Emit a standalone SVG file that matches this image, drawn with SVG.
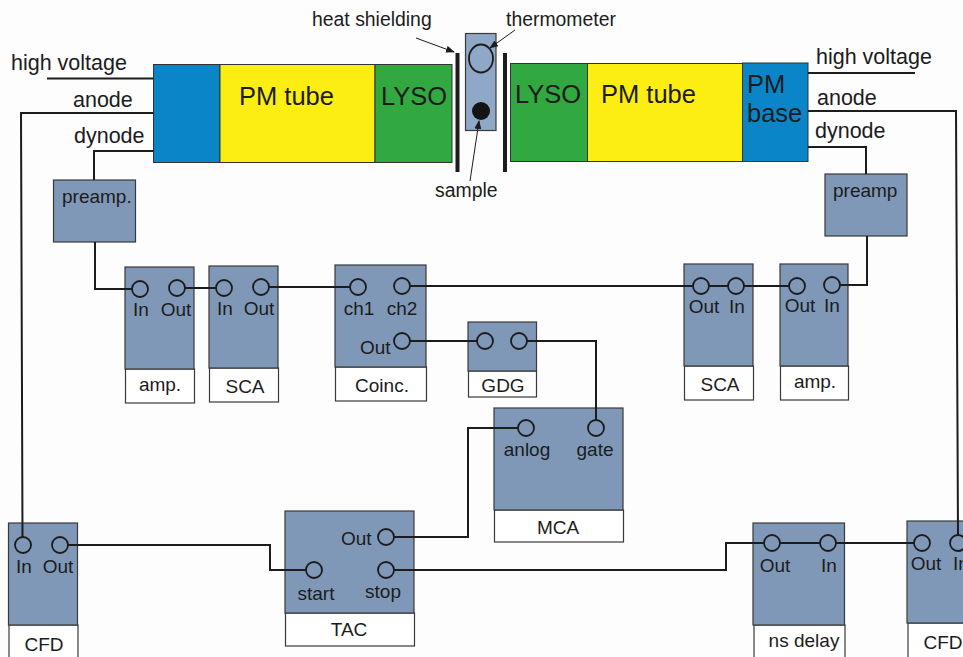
<svg xmlns="http://www.w3.org/2000/svg" width="963" height="657" viewBox="0 0 963 657">
<style>
text{font-family:"Liberation Sans",Arial,sans-serif;fill:#1c1c1c}
.l{font-size:21.5px}.m{font-size:19px}.n{font-size:19.400px}.b{font-size:25.500px}.c{text-anchor:middle}
.mod{fill:#7f98b8;stroke:#3a3a3a;stroke-width:1.2}
.lab{fill:#fff;stroke:#3a3a3a;stroke-width:1.2}
.port{fill:none;stroke:#1c1c1c;stroke-width:1.8}
.w{fill:none;stroke:#1c1c1c;stroke-width:2}
.t{stroke:#333;stroke-width:1}
.a{fill:none;stroke:#1c1c1c;stroke-width:1;marker-end:url(#ah)}
</style>
<defs>
<marker id="ah" markerWidth="9" markerHeight="7" refX="8" refY="3.5" orient="auto" markerUnits="userSpaceOnUse"><path d="M0 0L9 3.5L0 7z" fill="#1c1c1c"/></marker>
</defs>
<rect width="963" height="657" fill="#fdfdfd"/>
<g id="left-tube">
<rect class="t" x="153.500" y="64.500" width="66.500" height="98" fill="#0a86c8"/>
<rect class="t" x="220" y="64.500" width="155" height="98" fill="#fcee12"/>
<rect class="t" x="375" y="64.500" width="77" height="98" fill="#31a840"/>
<text class="b" x="239" y="105">PM tube</text>
<text class="b" x="381" y="105">LYSO</text>
</g>
<g id="right-tube">
<rect class="t" x="510.500" y="63.500" width="77" height="98" fill="#31a840"/>
<rect class="t" x="587.500" y="63.500" width="155" height="98" fill="#fcee12"/>
<rect class="t" x="742.500" y="63" width="65.500" height="98.500" fill="#0a86c8"/>
<text class="b" x="515" y="103">LYSO</text>
<text class="b" x="601" y="103">PM tube</text>
<text class="b" x="747" y="93">PM</text>
<text class="b" x="747" y="122">base</text>
</g>
<g id="shields">
<rect x="455.500" y="53" width="4" height="119" fill="#1c1c1c"/>
<rect x="503" y="53" width="4" height="119" fill="#1c1c1c"/>
</g>
<g id="sample-holder">
<rect x="465.500" y="33.500" width="30.500" height="97" fill="#8fa8c8" stroke="#3a3a3a" stroke-width="1.200"/>
<ellipse class="port" cx="481" cy="58.500" rx="12" ry="14"/>
<circle cx="481" cy="111" r="9" fill="#141414"/>
</g>
<g id="preamp-left"><rect class="mod" x="53.500" y="180" width="82" height="62"/><text class="m" x="62" y="203">preamp.</text></g>
<g id="preamp-right"><rect class="mod" x="825" y="174" width="82" height="62"/><text class="m" x="833" y="197">preamp</text></g>
<g id="amp-left"><rect class="lab" x="125.500" y="369" width="69" height="34"/><rect class="mod" x="125" y="267" width="69" height="102"/><circle class="port" cx="140" cy="289" r="8"/><circle class="port" cx="177" cy="288" r="8"/><text class="m c" x="141" y="316">In</text><text class="m c" x="176" y="316">Out</text><text class="m c" x="160" y="391">amp.</text></g>
<g id="sca-left"><rect class="lab" x="209.500" y="368" width="69" height="34"/><rect class="mod" x="209" y="266" width="69" height="102"/><circle class="port" cx="224" cy="288" r="8"/><circle class="port" cx="261" cy="287" r="8"/><text class="m c" x="225" y="315">In</text><text class="m c" x="259" y="315">Out</text><text class="m c" x="245" y="393">SCA</text></g>
<g id="coinc"><rect class="lab" x="335.500" y="367" width="91" height="34"/><rect class="mod" x="335" y="265" width="91" height="102"/><circle class="port" cx="358" cy="287" r="8"/><circle class="port" cx="402" cy="286" r="8"/><circle class="port" cx="402" cy="341" r="8"/><text class="m c" x="359" y="315">ch1</text><text class="m c" x="402" y="315">ch2</text><text class="m" x="360" y="354">Out</text><text class="m c" x="382" y="392">Coinc.</text></g>
<g id="gdg"><rect class="lab" x="468.500" y="371" width="68" height="26"/><rect class="mod" x="468" y="322" width="68.500" height="49"/><circle class="port" cx="485" cy="341" r="8"/><circle class="port" cx="519" cy="341" r="8"/><text class="m c" x="503" y="392">GDG</text></g>
<g id="mca"><rect class="lab" x="494.500" y="510" width="129" height="32"/><rect class="mod" x="494" y="408" width="129" height="102"/><circle class="port" cx="526" cy="428" r="8"/><circle class="port" cx="596" cy="428" r="8"/><text class="m c" x="527" y="456">anlog</text><text class="m c" x="595" y="456">gate</text><text class="m c" x="558" y="534">MCA</text></g>
<g id="sca-right"><rect class="lab" x="684.500" y="366" width="69" height="34"/><rect class="mod" x="684" y="264" width="69" height="102"/><circle class="port" cx="701" cy="286" r="8"/><circle class="port" cx="736" cy="286" r="8"/><text class="m c" x="704" y="313">Out</text><text class="m c" x="737" y="313">In</text><text class="m c" x="720" y="391">SCA</text></g>
<g id="amp-right"><rect class="lab" x="780.500" y="366" width="68" height="34"/><rect class="mod" x="780" y="264" width="68" height="102"/><circle class="port" cx="797" cy="286" r="8"/><circle class="port" cx="832" cy="285" r="8"/><text class="m c" x="800" y="312">Out</text><text class="m c" x="832" y="312">In</text><text class="m c" x="815" y="388">amp.</text></g>
<g id="cfd-left"><rect class="lab" x="9" y="625" width="69" height="40"/><rect class="mod" x="8.500" y="523" width="69" height="102"/><circle class="port" cx="23" cy="545" r="8"/><circle class="port" cx="60" cy="545" r="8"/><text class="m c" x="24" y="573">In</text><text class="m c" x="58" y="573">Out</text><text class="m c" x="44" y="651">CFD</text></g>
<g id="tac"><rect class="lab" x="285.500" y="613" width="129" height="33"/><rect class="mod" x="285" y="511" width="129" height="102"/><circle class="port" cx="386" cy="537" r="8"/><circle class="port" cx="314" cy="570" r="8"/><circle class="port" cx="386" cy="570" r="8"/><text class="m" x="341" y="545">Out</text><text class="m c" x="316" y="600">start</text><text class="m c" x="383" y="598">stop</text><text class="m c" x="349" y="636">TAC</text></g>
<g id="ns-delay"><rect class="lab" x="754" y="625" width="91" height="40"/><rect class="mod" x="753" y="523" width="91.500" height="102"/><circle class="port" cx="772" cy="543" r="8"/><circle class="port" cx="828" cy="543" r="8"/><text class="m c" x="775" y="572">Out</text><text class="m c" x="829" y="572">In</text><text class="m c" x="804" y="647">ns delay</text></g>
<g id="cfd-right"><rect class="lab" x="908" y="623" width="69" height="40"/><rect class="mod" x="907" y="521" width="69" height="102"/><circle class="port" cx="922" cy="543" r="8"/><circle class="port" cx="958" cy="543" r="8"/><text class="m c" x="926" y="570">Out</text><text class="m c" x="961" y="570">In</text><text class="m c" x="943" y="649">CFD</text></g>
<g id="connectors">
<path class="w" d="M47 78.500H153.500M153.500 113H21L22.500 537M153.500 151H94V180M95 242V289H132M185 288H216M269 287H350M410 286H693M709 286H728M744 286H789M840 285H867V236M866 174V147H808M808 73H915M808 111H956L958 535M410 341H477M527 341H596V420M518 428H468V537H394M394 570H726V543H764M780 543H820M836 543H914M68 545H270V570H306"/>
</g>
<g id="annotations">
<path class="a" d="M416 38L454 52"/>
<path class="a" d="M515 30L490 48"/>
<path class="a" d="M470 181L479 121"/>
<text class="n" x="312" y="26">heat shielding</text>
<text class="n" x="506" y="26">thermometer</text>
<text class="n" x="435" y="197">sample</text>
<text class="l" x="11" y="70">high voltage</text>
<text class="l" x="73" y="107">anode</text>
<text class="l" x="74" y="143">dynode</text>
<text class="l" x="816" y="64">high voltage</text>
<text class="l" x="817" y="105">anode</text>
<text class="l" x="815" y="138">dynode</text>
</g>
</svg>
